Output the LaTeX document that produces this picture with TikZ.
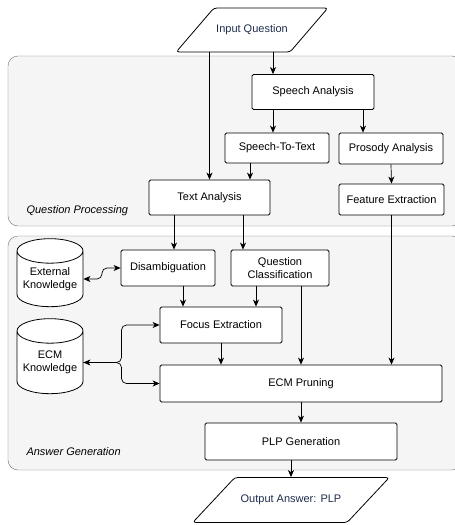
\documentclass[tikz,border=0pt]{standalone}
\usepackage{fontspec}
\setmainfont{Liberation Sans}
\usetikzlibrary{shapes.geometric,arrows.meta,positioning,calc}
\definecolor{panelgray}{HTML}{F5F5F5}
\definecolor{panelline}{HTML}{707070}
\definecolor{iotext}{HTML}{1F2D4D}
\tikzset{
  proc/.style={rectangle,draw,thick,fill=white,rounded corners=1.5pt,inner sep=0pt,align=center},
  io/.style={trapezium,draw,thick,fill=white,rounded corners=3pt,trapezium stretches=true,
    trapezium left angle=50,trapezium right angle=130,text=iotext,inner xsep=0pt,inner ysep=16pt},
  store/.style={cylinder,shape border rotate=90,draw,thick,fill=white,aspect=0.45,align=center,inner sep=0pt},
  panel/.style={draw=panelline,fill=panelgray,rounded corners=10pt},
  flow/.style={line width=0.7pt,-{Stealth[length=7pt,width=6pt,inset=2pt]}},
  bothway/.style={line width=0.7pt,{Stealth[length=7pt,width=6pt,inset=2pt]}-{Stealth[length=7pt,width=6pt,inset=2pt]},rounded corners=5pt},
}
\begin{document}
\begin{tikzpicture}[x=1pt,y=-1pt,font=\fontsize{11}{13}\selectfont]
    \useasboundingbox (0,0) rectangle (455,525);
    % panels
    \draw[panel] (8,56) rectangle (462,226);
    \draw[panel] (8,236) rectangle (462,470);
    \node[anchor=west,font=\fontsize{11}{13}\selectfont\itshape] (qp) at (23,211) {Question Processing};
    \node[anchor=west,font=\fontsize{11}{13}\selectfont\itshape] (ag) at (23,452) {Answer Generation};

    \node[io,minimum width=152pt,minimum height=44pt] (input) at (252,30) {Input Question};
    \node[proc,minimum width=122pt,minimum height=35pt] (speech) at (313,92) {Speech Analysis};
    \node[proc,minimum width=104pt,minimum height=30pt] (stt) at (277,148) {Speech-To-Text};
    \node[proc,minimum width=104pt,minimum height=31pt] (prosody) at (391,148.5) {Prosody Analysis};
    \node[proc,minimum width=121pt,minimum height=35pt] (text) at (209.5,197.5) {Text Analysis};
    \node[proc,minimum width=105pt,minimum height=31pt] (feature) at (391.5,199.5) {Feature Extraction};

    \node[proc,minimum width=94pt,minimum height=36pt] (disamb) at (168,268) {Disambiguation};
    \node[proc,minimum width=98pt,minimum height=36pt] (qclass) at (280,268) {Question\\Classification};
    \node[store,minimum width=66pt,minimum height=68pt] (extk) at (50,279) {External\\Knowledge};
    \node[proc,minimum width=122pt,minimum height=36pt] (focus) at (221,325) {Focus Extraction};
    \node[store,minimum width=66pt,minimum height=75pt] (ecmk) at (50,362.5) {ECM\\Knowledge};
    \node[proc,minimum width=282pt,minimum height=37pt] (pruning) at (301,383.5) {ECM Pruning};
    \node[proc,minimum width=192pt,minimum height=37pt] (plp) at (301,441.5) {PLP Generation};
    \node[io,trapezium left angle=48,trapezium right angle=132,minimum width=197pt,minimum height=45pt] (output) at (291,500) {Output Answer: PLP};

    % bend points for the knowledge links
    \coordinate (extbend) at ($(extk.east)!0.5!(disamb.west)$);
    \coordinate (ecmbend) at ($(ecmk.east)!0.5!(focus.west)$);

    % question processing
    \draw[flow] ([xshift=-40pt]speech.north |- input.south) -- ([xshift=-40pt]speech.north);
    \draw[flow] (text.north |- input.south) -- (text.north);
    \draw[flow] ([xshift=-4pt]stt.north |- speech.south) -- ([xshift=-4pt]stt.north);
    \draw[flow] ([xshift=-28pt]prosody.north |- speech.south) -- ([xshift=-28pt]prosody.north);
    \draw[flow] ([xshift=40.5pt]text.north |- stt.south) -- ([xshift=40.5pt]text.north);
    \draw[flow] (prosody.south) -- (feature.north);

    % answer generation
    \draw[flow] ([xshift=6pt]disamb.north |- text.south) -- ([xshift=6pt]disamb.north);
    \draw[flow] ([xshift=-37pt]qclass.north |- text.south) -- ([xshift=-37pt]qclass.north);
    \draw[flow] (feature.south) -- (feature.south |- pruning.north);
    \draw[flow] ([xshift=-38pt]focus.north |- disamb.south) -- ([xshift=-38pt]focus.north);
    \draw[flow] ([xshift=35pt]focus.north |- qclass.south) -- ([xshift=35pt]focus.north);
    \draw[flow] (pruning.north |- qclass.south) -- (pruning.north);
    \draw[flow] (focus.south) -- (focus.south |- pruning.north);
    \draw[bothway] (extk.east) -- (extbend |- extk.east) |- (disamb.west);
    \draw[bothway] (ecmk.east) -- (ecmbend |- ecmk.east) |- (focus.west);
    \draw[flow,rounded corners=5pt] (ecmk.east) -- (ecmbend |- ecmk.east) |- (pruning.west);
    \draw[flow] (pruning.south) -- (pruning.south |- plp.north);
    \draw[flow] (output.north |- plp.south) -- (output.north);
\end{tikzpicture}
\end{document}
